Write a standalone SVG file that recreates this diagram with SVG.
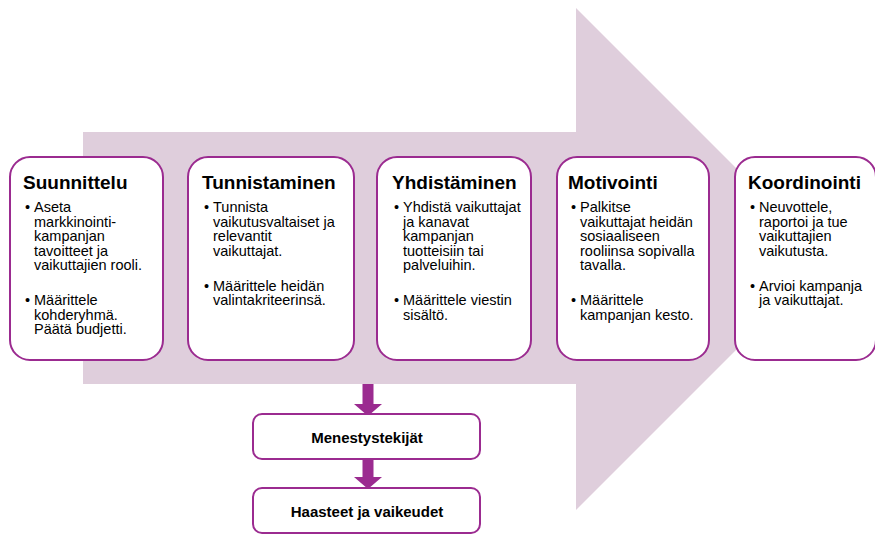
<svg xmlns="http://www.w3.org/2000/svg" width="875" height="534" viewBox="0 0 875 534">
  <style>
    .step { fill: #ffffff; stroke: #9b2b90; stroke-width: 2; }
    .title { font-family: "Liberation Sans", Arial, sans-serif; font-size: 19px; font-weight: bold; fill: #000000; }
    .body { font-family: "Liberation Sans", Arial, sans-serif; font-size: 14.5px; fill: #000000; }
    .sub { font-family: "Liberation Sans", Arial, sans-serif; font-size: 15px; font-weight: bold; fill: #000000; text-anchor: middle; }
    .down { fill: #9b2b90; }
  </style>

  <!-- large process arrow in the background -->
  <path id="process-arrow" d="M83 132 H576 V8 L827 259 L576 510 V384 H83 Z" fill="#dfcedc"/>

  <g id="connectors">
    <path class="down" d="M362.5 384 H373.5 V404 H382 L368 416 L354 404 H362.5 Z"/>
    <path class="down" d="M362.5 459 H373.5 V477 H382 L368 489 L354 477 H362.5 Z"/>
  </g>

  <g id="suunnittelu">
    <rect class="step" x="10" y="157" width="153" height="203" rx="20"/>
    <text class="title" x="23" y="189">Suunnittelu</text>
    <text class="body">
      <tspan x="25" y="212">•</tspan><tspan x="34" y="212">Aseta</tspan>
      <tspan x="34" y="226.5">markkinointi-</tspan>
      <tspan x="34" y="241">kampanjan</tspan>
      <tspan x="34" y="255.5">tavoitteet ja</tspan>
      <tspan x="34" y="270">vaikuttajien rooli.</tspan>
      <tspan x="25" y="305">•</tspan><tspan x="34" y="305">Määrittele</tspan>
      <tspan x="34" y="319.5">kohderyhmä.</tspan>
      <tspan x="34" y="334">Päätä budjetti.</tspan>
    </text>
  </g>

  <g id="tunnistaminen">
    <rect class="step" x="188" y="157" width="166" height="203" rx="20"/>
    <text class="title" x="202" y="189">Tunnistaminen</text>
    <text class="body">
      <tspan x="204" y="212">•</tspan><tspan x="213" y="212">Tunnista</tspan>
      <tspan x="213" y="226.5">vaikutusvaltaiset ja</tspan>
      <tspan x="213" y="241">relevantit</tspan>
      <tspan x="213" y="255.5">vaikuttajat.</tspan>
      <tspan x="204" y="290.5">•</tspan><tspan x="213" y="290.5">Määrittele heidän</tspan>
      <tspan x="213" y="305">valintakriteerinsä.</tspan>
    </text>
  </g>

  <g id="yhdistaminen">
    <rect class="step" x="377" y="157" width="154" height="203" rx="20"/>
    <text class="title" x="392" y="189">Yhdistäminen</text>
    <text class="body">
      <tspan x="394" y="212">•</tspan><tspan x="403" y="212">Yhdistä vaikuttajat</tspan>
      <tspan x="403" y="226.5">ja kanavat</tspan>
      <tspan x="403" y="241">kampanjan</tspan>
      <tspan x="403" y="255.5">tuotteisiin tai</tspan>
      <tspan x="403" y="270">palveluihin.</tspan>
      <tspan x="394" y="305">•</tspan><tspan x="403" y="305">Määrittele viestin</tspan>
      <tspan x="403" y="319.5">sisältö.</tspan>
    </text>
  </g>

  <g id="motivointi">
    <rect class="step" x="557" y="157" width="152" height="203" rx="20"/>
    <text class="title" x="568" y="189">Motivointi</text>
    <text class="body">
      <tspan x="571" y="212">•</tspan><tspan x="580" y="212">Palkitse</tspan>
      <tspan x="580" y="226.5">vaikuttajat heidän</tspan>
      <tspan x="580" y="241">sosiaaliseen</tspan>
      <tspan x="580" y="255.5">rooliinsa sopivalla</tspan>
      <tspan x="580" y="270">tavalla.</tspan>
      <tspan x="571" y="305">•</tspan><tspan x="580" y="305">Määrittele</tspan>
      <tspan x="580" y="319.5">kampanjan kesto.</tspan>
    </text>
  </g>

  <g id="koordinointi">
    <rect class="step" x="735" y="157" width="141" height="203" rx="20"/>
    <text class="title" x="748" y="189">Koordinointi</text>
    <text class="body">
      <tspan x="750" y="212">•</tspan><tspan x="759" y="212">Neuvottele,</tspan>
      <tspan x="759" y="226.5">raportoi ja tue</tspan>
      <tspan x="759" y="241">vaikuttajien</tspan>
      <tspan x="759" y="255.5">vaikutusta.</tspan>
      <tspan x="750" y="290.5">•</tspan><tspan x="759" y="290.5">Arvioi kampanja</tspan>
      <tspan x="759" y="305">ja vaikuttajat.</tspan>
    </text>
  </g>

  <g id="menestystekijat">
    <rect class="step" x="253" y="414" width="227" height="45" rx="9"/>
    <text class="sub" x="367" y="443">Menestystekijät</text>
  </g>

  <g id="haasteet">
    <rect class="step" x="253" y="488" width="227" height="45" rx="9"/>
    <text class="sub" x="367" y="517">Haasteet ja vaikeudet</text>
  </g>
</svg>
